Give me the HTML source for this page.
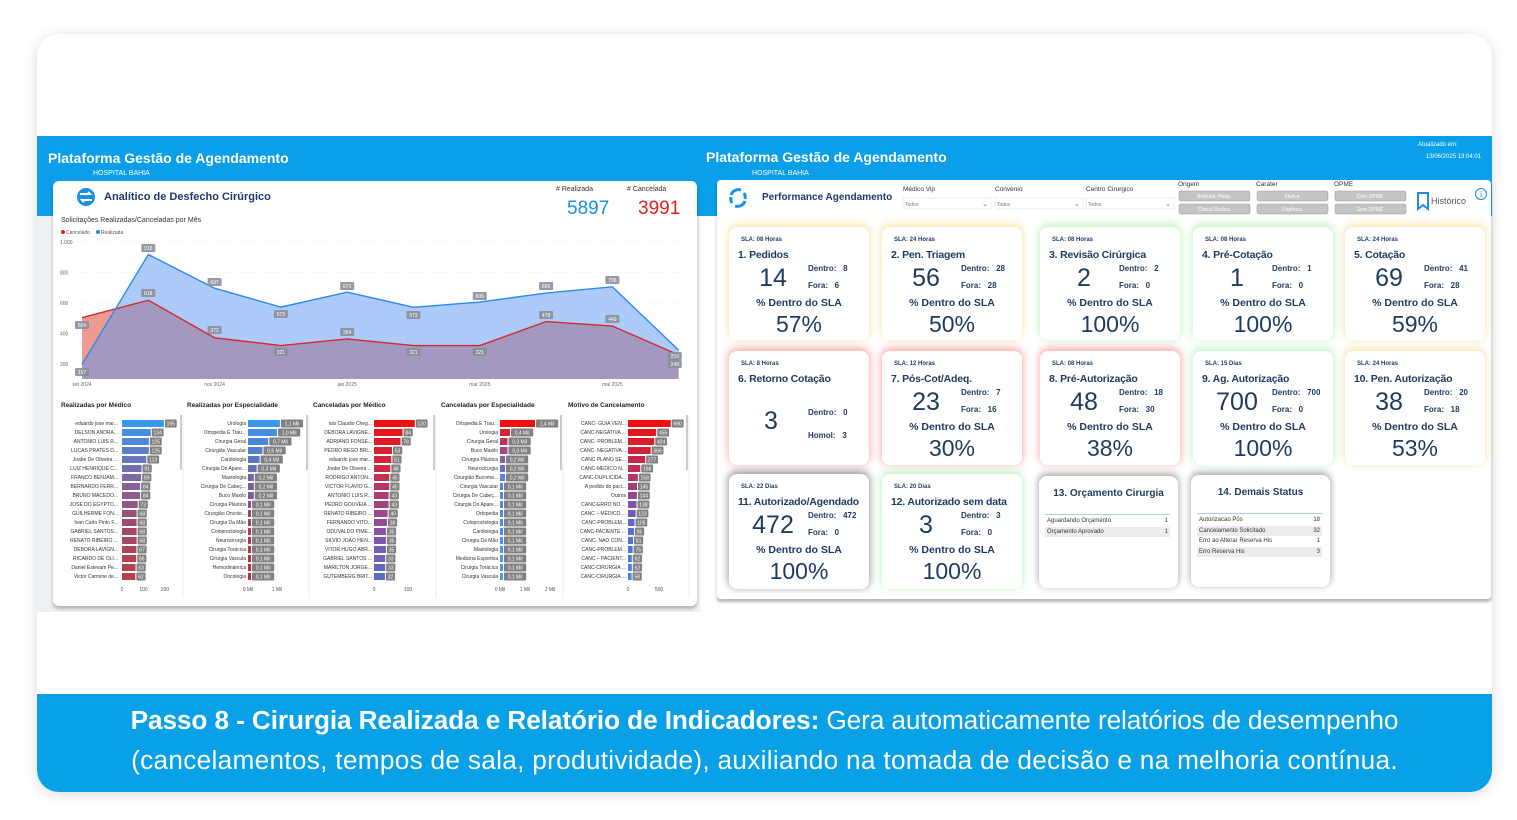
<!DOCTYPE html>
<html><head><meta charset="utf-8">
<style>
*{margin:0;padding:0;box-sizing:border-box}
body{width:1517px;height:820px;background:#fff;position:relative;overflow:hidden;font-family:"Liberation Sans",sans-serif;color:#1e3a5f}
.abs{position:absolute}
.outer{left:37px;top:34px;width:1455px;height:758px;border-radius:22px;background:#fff;box-shadow:0 2px 14px rgba(0,0,0,.14);overflow:hidden}
.n{font-family:"Liberation Sans Narrow","Liberation Sans",sans-serif}
.card{position:absolute;background:#fff;border-radius:8px}
.card .s{position:absolute;font-size:6px;font-weight:bold}
.card .t{position:absolute;font-size:10.5px;font-weight:bold;white-space:nowrap;letter-spacing:-.2px}
.card .big{position:absolute;font-size:25px;text-align:center;width:60px}
.card .l{position:absolute;font-size:8px;font-weight:bold}
.card .p1{position:absolute;left:0;width:100%;text-align:center;font-size:10.5px;font-weight:bold}
.card .p2{position:absolute;left:0;width:100%;text-align:center;font-size:23px}
</style></head><body>
<div class="abs outer">
 <div class="abs" style="left:0;top:102px;width:663px;height:476px;background:#eef1f4"></div>
 <div class="abs" style="left:0;top:102px;width:663px;height:80px;background:#0a9fe8"></div>
 <div class="abs" style="left:680px;top:102px;width:775px;height:466px;background:#eef1f4"></div>
 <div class="abs" style="left:663px;top:102px;width:792px;height:80px;background:#0a9fe8"></div>
 <div class="abs" style="left:0;top:660px;width:1455px;height:98px;background:#08a0e6"></div>
</div>
<div class="abs n" style="left:48px;top:150px;font-size:14px;font-weight:bold;color:#fff">Plataforma Gestão de Agendamento</div>
<div class="abs n" style="left:93px;top:170px;font-size:7px;color:#fff">HOSPITAL BAHIA</div>
<div class="abs n" style="left:706px;top:149px;font-size:14px;font-weight:bold;color:#fff">Plataforma Gestão de Agendamento</div>
<div class="abs n" style="left:752px;top:170px;font-size:7px;color:#fff">HOSPITAL BAHIA</div>
<div class="abs n" style="left:1418px;top:142px;font-size:6px;color:#fff">Atualizado em:</div>
<div class="abs n" style="left:1426px;top:154px;font-size:6px;color:#fff">13/06/2025 13:04:01</div>

<div class="abs" style="left:53px;top:181px;width:644px;height:425px;background:#fff;border-radius:6px;box-shadow:0 3px 3px rgba(0,0,0,.25)"></div>
<div class="abs" style="left:717px;top:180px;width:774px;height:419px;background:#fff;border-radius:4px;box-shadow:0 3px 3px rgba(0,0,0,.25)"></div>

<svg class="abs" style="left:0;top:0" width="1517" height="820" font-family="Liberation Sans Narrow, Liberation Sans, sans-serif">
 <circle cx="86" cy="197" r="9" fill="#1a8fe6"/>
 <path d="M80 194h10l-2-2M92 200h-10l2 2" stroke="#fff" stroke-width="2" fill="none"/>
 <text x="104" y="200" font-size="11" font-weight="bold" fill="#1e3a6b">Analítico de Desfecho Cirúrgico</text>
 <text x="556" y="191" font-size="7" fill="#333">#&#160;Realizada</text>
 <text x="627" y="191" font-size="7" fill="#333">#&#160;Cancelada</text>
 <text x="567" y="214" font-size="19" fill="#1a8fe6">5897</text>
 <text x="638" y="214" font-size="19" fill="#e22020">3991</text>
 <text x="61" y="222" font-size="7" fill="#333">Solicitações Realizadas/Canceladas por Mês</text>
 <circle cx="63" cy="232" r="2" fill="#e22020"/><text x="66" y="234" font-size="5" fill="#555">Cancelado</text>
 <circle cx="98" cy="232" r="2" fill="#1a8fe6"/><text x="101" y="234" font-size="5" fill="#555">Realizada</text>
 <g id="chart"></g>
 <g id="bars"></g>
 <g transform="translate(738,198)" stroke="#1a8fe6" stroke-width="3" fill="none"><path d="M-7 -3 A8 8 0 0 1 3 -8"/><path d="M7 3 A8 8 0 0 1 -3 8"/><path d="M6 -5 A8 8 0 0 1 7 1"/><path d="M-6 5 A8 8 0 0 1 -7 -1"/></g>
 <text x="762" y="200" font-size="10" font-weight="bold" fill="#1e3a6b">Performance Agendamento</text>
 <g font-size="6.5" fill="#333">
  <text x="903" y="191">Médico Vip</text><text x="995" y="191">Convenio</text><text x="1086" y="191">Centro Cirurgico</text>
  <text x="1178" y="186">Origem</text><text x="1256" y="186">Carater</text><text x="1334" y="186">OPME</text>
 </g>
 <g font-size="5" fill="#777">
  <rect x="903" y="198" width="88" height="11" fill="#fff" stroke="#ddd" stroke-width=".5"/><text x="905" y="206">Todos</text><text x="982" y="206" font-size="7">⌄</text>
  <rect x="995" y="198" width="88" height="11" fill="#fff" stroke="#ddd" stroke-width=".5"/><text x="997" y="206">Todos</text><text x="1074" y="206" font-size="7">⌄</text>
  <rect x="1086" y="198" width="88" height="11" fill="#fff" stroke="#ddd" stroke-width=".5"/><text x="1088" y="206">Todos</text><text x="1165" y="206" font-size="7">⌄</text>
 </g>
 <g font-size="5" fill="#fff" text-anchor="middle">
  <rect x="1179" y="191" width="71" height="10" rx="2" fill="#c4c4c4" stroke="#999" stroke-width=".5"/><text x="1214" y="198">Ambulat. Hosp.</text>
  <rect x="1179" y="204" width="71" height="10" rx="2" fill="#c4c4c4" stroke="#999" stroke-width=".5"/><text x="1214" y="211">Clinica Medico</text>
  <rect x="1257" y="191" width="71" height="10" rx="2" fill="#c4c4c4" stroke="#999" stroke-width=".5"/><text x="1292" y="198">Eletiva</text>
  <rect x="1257" y="204" width="71" height="10" rx="2" fill="#c4c4c4" stroke="#999" stroke-width=".5"/><text x="1292" y="211">Urgência</text>
  <rect x="1335" y="191" width="71" height="10" rx="2" fill="#c4c4c4" stroke="#999" stroke-width=".5"/><text x="1370" y="198">Com OPME</text>
  <rect x="1335" y="204" width="71" height="10" rx="2" fill="#c4c4c4" stroke="#999" stroke-width=".5"/><text x="1370" y="211">Sem OPME</text>
 </g>
 <path d="M1418 193h10v16l-5-4-5 4z" fill="none" stroke="#1a8fe6" stroke-width="2"/>
 <text x="1431" y="204" font-size="9" fill="#555">Histórico</text>
 <circle cx="1481" cy="194" r="5.5" fill="none" stroke="#1a8fe6" stroke-width="1"/><text x="1481" y="197" font-size="8" fill="#1a8fe6" text-anchor="middle">i</text>
</svg>

<div id="cards"></div>

<div class="abs" style="left:37px;top:700px;width:1455px;text-align:center;color:#fff;font-size:26.2px;line-height:40px;white-space:nowrap;letter-spacing:-.1px">
<b>Passo 8 - Cirurgia Realizada e Relatório de Indicadores:</b> Gera automaticamente relatórios de desempenho<br><span style="letter-spacing:.3px">(cancelamentos, tempos de sala, produtividade), auxiliando na tomada de decisão e na melhoria contínua.</span></div>

<script>
var NS="http://www.w3.org/2000/svg";
function el(p,t,a,txt){var e=document.createElementNS(NS,t);for(var k in a)e.setAttribute(k,a[k]);if(txt!=null)e.textContent=txt;p.appendChild(e);return e;}
var g=document.getElementById('chart');
function Y(v){return 242+(1000-v)*0.1525}
function X(i){return 82+i*66.3}
[[1000,"1.000"],[800,"800"],[600,"600"],[400,"400"],[200,"200"]].forEach(function(a){
 el(g,'line',{x1:78,x2:684,y1:Y(a[0]),y2:Y(a[0]),stroke:'#ddd','stroke-width':.6,'stroke-dasharray':'1,2'});
 el(g,'text',{x:60,y:Y(a[0])+2,'font-size':5,fill:'#666'},a[1]);});
var R=[197,918,697,573,671,572,606,665,706,290],C=[504,618,372,321,364,321,321,478,449,259];
var base=379;
function area(d){var s="M"+X(0)+" "+base;d.forEach(function(v,i){s+=" L"+X(i)+" "+Y(v)});return s+" L"+X(9)+" "+base+"Z";}
function line(d){return d.map(function(v,i){return (i?"L":"M")+X(i)+" "+Y(v)}).join(" ");}
el(g,'path',{d:area(C),fill:'#ee9a90'});
el(g,'path',{d:area(R),fill:'rgba(90,150,245,0.5)'});
el(g,'path',{d:line(C),fill:'none',stroke:'#d42a2a','stroke-width':1.4});
el(g,'path',{d:line(R),fill:'none',stroke:'#2a8af0','stroke-width':1.4});
function lab(x,y,t){el(g,'rect',{x:x-7,y:y-4,width:14,height:8,rx:1,fill:'#8a8f9a',opacity:.9});el(g,'text',{x:x,y:y+2,'font-size':5,fill:'#fff','text-anchor':'middle'},t);}
var rl=[[0,372,"197"],[1,248,"918"],[2,282,"697"],[3,314,"573"],[4,286,"671"],[5,315,"572"],[6,296,"606"],[7,286,"665"],[8,280,"706"],[9,356,"259"]];
var cl=[[0,325,"504"],[1,293,"618"],[2,330,"372"],[3,352,"321"],[4,332,"364"],[5,352,"321"],[6,352,"321"],[7,315,"478"],[8,319,"449"],[9,364,"248"]];
rl.forEach(function(a){lab(X(a[0])+(a[0]==9?-4:0),a[1],a[2])});cl.forEach(function(a){lab(X(a[0])+(a[0]==9?-4:0),a[1],a[2])});
[[0,"set 2024"],[2,"nov 2024"],[4,"jan 2025"],[6,"mar 2025"],[8,"mai 2025"]].forEach(function(a){el(g,'text',{x:X(a[0]),y:386,'font-size':5,fill:'#666','text-anchor':'middle'},a[1])});
var b=document.getElementById('bars');
function mix(a,c,t){var p=function(h,i){return parseInt(h.substr(1+2*i,2),16)};var r=[0,1,2].map(function(i){return Math.round(p(a,i)+(p(c,i)-p(a,i))*t)});return "rgb("+r.join(",")+")";}
function grad(cols,t){var n=cols.length-1,k=Math.min(n-1,Math.floor(t*n));return mix(cols[k],cols[k+1],t*n-k);}
var P=[
 {tx:61,le:118,bs:122,sc:.215,sep:181,cols:["#3a97f0","#7a6aa8","#a04a6a","#b8404a"],fmt:function(v){return v},ax:[[0,"0"],[100,"100"],[200,"200"]],title:"Realizadas por Médico",
  d:[["eduardo jose mar...",195],["DELSON ANDRA...",134],["ANTONIO LUIS R...",125],["LUCAS PRATES D...",125],["Joabe De Oliveira ...",113],["LUIZ HENRIQUE C...",91],["FRANCO BENJAM...",89],["BERNARDO FERR...",84],["BRUNO MACEDO...",84],["JOSE DO EGYPTO...",73],["GUILHERME FON...",68],["Ivan Carlo Pinto F...",68],["GABRIEL SANTOS...",68],["RENATO RIBEIRO ...",68],["DEBORA LAVIGN...",67],["RICARDO DE OLI...",66],["Daniel Estevam Pe...",63],["Victor Carmine de...",62]]},
 {tx:187,le:246,bs:248,sc:29,sep:307,cols:["#3a97f0","#6a6ab0","#a04060","#d02828"],fmt:function(v){return v.toFixed(1).replace('.',',')+" Mil"},ax:[[0,"0 Mil"],[1,"1 Mil"]],title:"Realizadas por Especialidade",
  d:[["Urologia",1.1],["Ortopedia E Trau...",1.0],["Cirurgia Geral",0.7],["Cirurgião Vascular",0.5],["Cardiologia",0.4],["Cirurgia Do Apare...",0.3],["Mastologia",0.2],["Cirurgia De Cabeç...",0.2],["Buco Maxilo",0.2],["Cirurgia Plástica",0.1],["Cirurgião Oncolo...",0.1],["Cirurgia Da Mão",0.1],["Coloproctologia",0.1],["Neurocirurgia",0.1],["Cirurgia Torácica",0.1],["Cirurgia Vascula",0.1],["Hemodinâmica",0.05],["Oncologia",0.05]]},
 {tx:313,le:372,bs:374,sc:.34,sep:434,cols:["#f01010","#c03050","#9050a0","#5a6ac8"],fmt:function(v){return v},ax:[[0,"0"],[100,"100"]],title:"Canceladas por Médico",
  d:[["luis Claudio Cheg...",120],["DEBORA LAVIGNE...",84],["ADRIANO FONSE...",78],["PEDRO REGO BRI...",53],["eduardo jose mar...",51],["Joabe De Oliveira ...",48],["RODRIGO ANTON...",45],["VICTOR FLAVIO G...",45],["ANTONIO LUIS R...",43],["PEDRO GOUVEIA ...",43],["RENATO RIBEIRO ...",40],["FERNANDO VITO...",38],["ODUVALDO PIME...",35],["SILVIO JOAO HEN...",35],["VITOR HUGO ABR...",35],["GABRIEL SANTOS ...",33],["MARILTON JORGE...",33],["GUTEMBERG BRIT...",32]]},
 {tx:441,le:498,bs:500,sc:25,sep:561,cols:["#f01010","#5a7ee0","#4a8ef0","#4a9af4"],fmt:function(v){return v.toFixed(1).replace('.',',')+" Mil"},ax:[[0,"0 Mil"],[1,"1 Mil"],[2,"2 Mil"]],title:"Canceladas por Especialidade",
  d:[["Ortopedia E Trau...",1.4],["Urologia",0.4],["Cirurgia Geral",0.3],["Buco Maxilo",0.3],["Cirurgia Plástica",0.2],["Neurocirurgia",0.2],["Cirurgião Bucoma...",0.2],["Cirurgia Vascular",0.1],["Cirurgia De Cabeç...",0.1],["Cirurgia Do Apare...",0.1],["Ortopedia",0.1],["Coloproctologia",0.1],["Cardiologia",0.1],["Cirurgia Da Mão",0.1],["Mastologia",0.1],["Medicina Esportiva",0.05],["Cirurgia Torácica",0.05],["Cirurgia Vascula",0.05]]},
 {tx:568,le:626,bs:628,sc:.062,sep:687,cols:["#f01010","#b83060","#5a6ad0","#3a8af0"],fmt:function(v){return v},ax:[[0,"0"],[500,"500"]],title:"Motivo de Cancelamento",
  d:[["CANC- GUIA VEN...",690],["CANC-NEGATIVA ...",455],["CANC- PROBLEM...",424],["CANC- NEGATIVA...",366],["CANC PLANO SE...",277],["CANC-MEDICO N...",198],["CANC-DUPLICIDA...",158],["A pedido do paci...",145],["Outros",144],["CANC-ERRO NO ...",138],["CANC – MÉDICO ...",123],["CANC-PROBLEM...",105],["CANC-PACIENTE ...",96],["CANC- NAO CON...",81],["CANC-PROBLEM...",75],["CANC – PACIENT...",62],["CANC-CIRURGIA ...",62],["CANC-CIRURGIA ...",58]]}
];
P.forEach(function(p){
 el(b,'text',{x:p.tx,y:407,'font-size':6.5,fill:'#222','font-weight':'bold'},p.title);
 el(b,'line',{x1:p.sep,x2:p.sep,y1:415,y2:470,stroke:'#bbb','stroke-width':1.5});
 el(b,'line',{x1:p.sep+2,x2:p.sep+2,y1:415,y2:598,stroke:'#eee','stroke-width':1});
 p.d.forEach(function(r,i){
  var y=419+i*9,w=Math.max(3,r[1]*p.sc),t=i/17;
  el(b,'text',{x:p.le,y:y+6,'font-size':5,fill:'#333','text-anchor':'end'},r[0]);
  el(b,'rect',{x:p.bs,y:y+1,width:w,height:7,fill:grad(p.cols,t)});
  var s=String(p.fmt(r[1])),bw=s.length*2.6+4;
  el(b,'rect',{x:p.bs+w+1,y:y+0.5,width:bw,height:8,rx:1,fill:'#808080'});
  el(b,'text',{x:p.bs+w+1+bw/2,y:y+6.5,'font-size':5,fill:'#fff','text-anchor':'middle'},s);
 });
 p.ax.forEach(function(a){el(b,'text',{x:p.bs+a[0]*p.sc,y:591,'font-size':5,fill:'#555','text-anchor':'middle'},a[1])});
});
var glow={y:"rgba(250,200,80,.45)",g:"rgba(120,230,120,.45)",r:"rgba(250,90,80,.5)",k:"rgba(0,0,0,.4)"};
var cols=[729,882,1040,1193,1345],rows=[[227,340],[351,465],[474,589]];
var cards=[
 ["y","SLA: 08 Horas","1. Pedidos","14","8","6","57%"],
 ["y","SLA: 24 Horas","2. Pen. Triagem","56","28","28","50%"],
 ["g","SLA: 08 Horas","3. Revisão Cirúrgica","2","2","0","100%"],
 ["g","SLA: 08 Horas","4. Pré-Cotação","1","1","0","100%"],
 ["y","SLA: 24 Horas","5. Cotação","69","41","28","59%"],
 ["r","SLA: 8 Horas","6. Retorno Cotação","3","0","3",null],
 ["r","SLA: 12 Horas","7. Pós-Cot/Adeq.","23","7","16","30%"],
 ["r","SLA: 08 Horas","8. Pré-Autorização","48","18","30","38%"],
 ["g","SLA: 15 Dias","9. Ag. Autorização","700","700","0","100%"],
 ["y","SLA: 24 Horas","10. Pen. Autorização","38","20","18","53%"],
 ["k","SLA: 22 Dias","11. Autorizado/Agendado","472","472","0","100%"],
 ["g","SLA: 20 Dias","12. Autorizado sem data","3","3","0","100%"]];
var h="";
cards.forEach(function(c,i){
 var x=cols[i%5],r=rows[Math.floor(i/5)],w=140,ht=r[1]-r[0];
 h+='<div class="card n" style="left:'+x+'px;top:'+r[0]+'px;width:'+w+'px;height:'+ht+'px;box-shadow:0 -2px 8px 1px '+glow[c[0]]+'">';
 h+='<div class="s" style="left:12px;top:10px">'+c[1]+'</div><div class="t" style="left:9px;top:22px">'+c[2]+'</div>';
 if(c[6]){
  h+='<div class="big" style="left:14px;top:37px">'+c[3]+'</div>';
  h+='<div class="l" style="left:79px;top:37px">Dentro:&nbsp;&nbsp; '+c[4]+'</div><div class="l" style="left:79px;top:54px">Fora:&nbsp;&nbsp; '+c[5]+'</div>';
  h+='<div class="p1" style="top:70px">% Dentro do SLA</div><div class="p2" style="top:84px">'+c[6]+'</div>';
 } else {
  h+='<div class="big" style="left:12px;top:56px">'+c[3]+'</div>';
  h+='<div class="l" style="left:79px;top:57px">Dentro:&nbsp;&nbsp; '+c[4]+'</div><div class="l" style="left:79px;top:80px">Homol:&nbsp;&nbsp; '+c[5]+'</div>';
 }
 h+='</div>';
});
function tbl(x,y,title,rowsd){
 var s='<div class="card" style="left:'+x+'px;top:'+y+'px;width:139px;height:112px;box-shadow:0 -2px 7px 1px rgba(0,0,0,.32)">';
 s+='<div class="n" style="position:absolute;top:12px;width:100%;text-align:center;font-size:10px;font-weight:bold">'+title+'</div>';
 s+='<div style="position:absolute;left:6px;top:38px;width:125px;border-top:1px solid #a8cdf5"></div>';
 rowsd.forEach(function(r,i){s+='<div style="position:absolute;left:6px;top:'+(40+i*10.5)+'px;width:125px;height:10px;font-size:6px;line-height:10px;color:#333;padding:0 2px;background:'+(i%2?'#ececec':'#fff')+'">'+r[0]+'<span style="float:right">'+r[1]+'</span></div>'});
 return s+'</div>';}
h+=tbl(1039,476,"13. Orçamento Cirurgia",[["Aguardando Orçamento",1],["Orçamento Aprovado",1]]);
h+=tbl(1191,475,"14. Demais Status",[["Autorizacao Pós",18],["Cancelamento Solicitado",32],["Erro ao Alterar Reserva His",1],["Erro Reserva His",3]]);
document.getElementById('cards').innerHTML=h;
</script>
</body></html>
